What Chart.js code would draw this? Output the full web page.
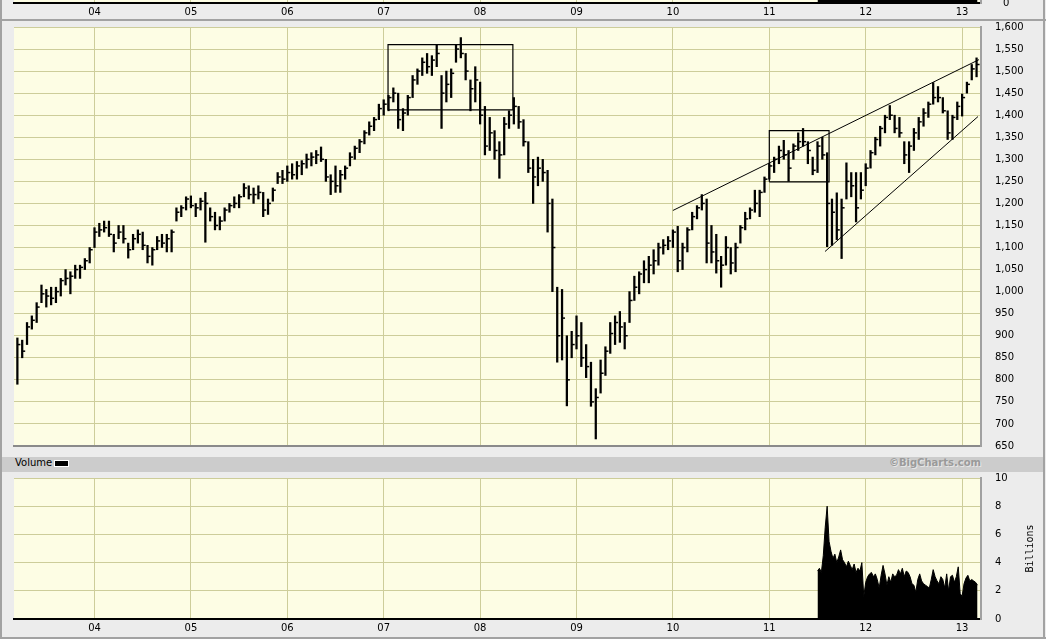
<!DOCTYPE html>
<html>
<head>
<meta charset="utf-8">
<script src="https://cdn.jsdelivr.net/npm/chart.js@4.4.1/dist/chart.umd.min.js"></script>
<style>
  body { margin: 0; background: #ececec; }
  #wrap { position: relative; width: 1046px; height: 639px; overflow: hidden; background: #ececec; }
  canvas { position: absolute; left: 0; }
  .rule { position: absolute; background: #a2a2a2; }
  #band { position: absolute; left: 2px; top: 457px; width: 1041px; height: 15px; background: #cccccc; }
  #volLabel { position: absolute; left: 15px; top: 457px; height: 15px; line-height: 15px;
    font: 10px 'DejaVu Sans', sans-serif; color: #000; }
  #swatch { position: absolute; left: 54px; top: 460px; width: 13px; height: 5px; background: #000; border: 1px solid #fff; }
  #credit { position: absolute; left: 760px; width: 221px; top: 457px; height: 15px; line-height: 15px; text-align: right;
    font: bold 10px 'DejaVu Sans', sans-serif; color: #9a9a9a; text-shadow: 1px 1px 0 #e6e6e6; }
</style>
</head>
<body>
<div id="wrap">
  <canvas id="topStrip" width="1046" height="19" style="top:0"></canvas>
  <canvas id="priceChart" width="1046" height="436" style="top:20px"></canvas>
  <div id="band"></div>
  <div id="volLabel">Volume</div>
  <div id="swatch"></div>
  <div id="credit">©BigCharts.com</div>
  <canvas id="volumeChart" width="1046" height="165" style="top:472px"></canvas>
  <div class="rule" style="left:0;top:0;width:2px;height:639px"></div>
  <div class="rule" style="left:1043px;top:0;width:2px;height:639px"></div>
  <div class="rule" style="left:0;top:19px;width:1046px;height:2px"></div>
  <div class="rule" style="left:0;top:637px;width:1046px;height:2px"></div>
</div>
<script>
// S&P 500, roughly every 2.5 weeks
const weeks = [
  2003.20, 2003.25, 2003.30, 2003.35, 2003.40, 2003.45, 2003.50, 2003.55, 2003.60, 2003.65, 2003.70, 2003.75, 2003.80, 2003.85, 2003.90, 2003.95,
  2004.00, 2004.05, 2004.10, 2004.15, 2004.20, 2004.25, 2004.30, 2004.35, 2004.40, 2004.45, 2004.50, 2004.55, 2004.60, 2004.65, 2004.70, 2004.75, 2004.80, 2004.85, 2004.90, 2004.95,
  2005.00, 2005.05, 2005.10, 2005.15, 2005.20, 2005.25, 2005.30, 2005.35, 2005.40, 2005.45, 2005.50, 2005.55, 2005.60, 2005.65, 2005.70, 2005.75, 2005.80, 2005.85, 2005.90, 2005.95,
  2006.00, 2006.05, 2006.10, 2006.15, 2006.20, 2006.25, 2006.30, 2006.35, 2006.40, 2006.45, 2006.50, 2006.55, 2006.60, 2006.65, 2006.70, 2006.75, 2006.80, 2006.85, 2006.90, 2006.95,
  2007.00, 2007.05, 2007.10, 2007.15, 2007.20, 2007.25, 2007.30, 2007.35, 2007.40, 2007.45, 2007.50, 2007.55, 2007.60, 2007.65, 2007.70, 2007.75, 2007.80, 2007.85, 2007.90, 2007.95,
  2008.00, 2008.05, 2008.10, 2008.15, 2008.20, 2008.25, 2008.30, 2008.35, 2008.40, 2008.45, 2008.50, 2008.55, 2008.60, 2008.65, 2008.70, 2008.75, 2008.80, 2008.85, 2008.90, 2008.95,
  2009.00, 2009.05, 2009.10, 2009.15, 2009.20, 2009.25, 2009.30, 2009.35, 2009.40, 2009.45, 2009.50, 2009.55, 2009.60, 2009.65, 2009.70, 2009.75, 2009.80, 2009.85, 2009.90, 2009.95,
  2010.00, 2010.05, 2010.10, 2010.15, 2010.20, 2010.25, 2010.30, 2010.35, 2010.40, 2010.45, 2010.50, 2010.55, 2010.60, 2010.65, 2010.70, 2010.75, 2010.80, 2010.85, 2010.90, 2010.95,
  2011.00, 2011.05, 2011.10, 2011.15, 2011.20, 2011.25, 2011.30, 2011.35, 2011.40, 2011.45, 2011.50, 2011.55, 2011.60, 2011.65, 2011.70, 2011.75, 2011.80, 2011.85, 2011.90, 2011.95,
  2012.00, 2012.05, 2012.10, 2012.15, 2012.20, 2012.25, 2012.30, 2012.35, 2012.40, 2012.45, 2012.50, 2012.55, 2012.60, 2012.65, 2012.70, 2012.75, 2012.80, 2012.85, 2012.90, 2012.95,
  2013.00, 2013.05, 2013.10, 2013.15
];
const lows = [
  790, 850, 880, 915, 930, 975, 965, 970, 975, 990, 1015, 995, 1030, 1030, 1050, 1065,
  1100, 1125, 1135, 1125, 1090, 1120, 1110, 1076, 1095, 1110, 1095, 1065, 1060, 1095, 1100, 1090, 1090, 1160, 1170, 1185,
  1190, 1170, 1185, 1112, 1160, 1140, 1140, 1160, 1180, 1190, 1190, 1215, 1210, 1200, 1210, 1170, 1175, 1205, 1245, 1245,
  1250, 1255, 1255, 1265, 1280, 1285, 1290, 1295, 1250, 1220, 1225, 1225, 1255, 1285, 1300, 1315, 1335, 1355, 1365, 1390,
  1400, 1410, 1430, 1370, 1365, 1400, 1440, 1470, 1490, 1495, 1490, 1510, 1370, 1430, 1440, 1520, 1530, 1480, 1410, 1430,
  1380, 1310, 1320, 1300, 1257, 1310, 1370, 1380, 1370, 1330, 1270, 1200, 1240, 1250, 1135, 1000, 840, 845, 741, 850,
  870, 830, 805, 740, 666, 770, 810, 860, 880, 885, 870, 930, 980, 995, 1020, 1020, 1040, 1060, 1085, 1095,
  1100, 1045, 1050, 1090, 1140, 1165, 1185, 1065, 1065, 1042, 1010, 1060, 1040, 1045, 1110, 1140, 1165, 1180, 1170, 1225,
  1255, 1270, 1290, 1300, 1250, 1300, 1320, 1330, 1290, 1265, 1270, 1300, 1102, 1105, 1118, 1075, 1210, 1215, 1158, 1210,
  1240, 1280, 1310, 1330, 1360, 1390, 1360, 1350, 1290, 1270, 1320, 1345, 1375, 1395, 1425, 1430, 1405, 1345, 1345, 1390,
  1398, 1450, 1480, 1487
];
const highs = [
  895, 890, 930, 945, 975, 1015, 1005, 1010, 1010, 1030, 1050, 1045, 1060, 1060, 1075, 1100,
  1145, 1155, 1160, 1160, 1130, 1150, 1150, 1110, 1130, 1140, 1135, 1105, 1100, 1125, 1130, 1130, 1140, 1190, 1195, 1215,
  1217, 1200, 1212, 1225, 1190, 1180, 1170, 1190, 1200, 1215, 1220, 1245, 1240, 1235, 1240, 1225, 1210, 1235, 1270, 1275,
  1285, 1290, 1295, 1297, 1312, 1315, 1320, 1328, 1300, 1265, 1285, 1275, 1285, 1315, 1330, 1345, 1365, 1385, 1395, 1425,
  1435, 1445, 1462, 1450, 1415, 1445, 1490, 1505, 1530, 1540, 1535, 1560, 1490, 1500, 1505, 1560, 1576, 1540, 1480, 1510,
  1475, 1420, 1395, 1365, 1340, 1395, 1410, 1440, 1420, 1390, 1340, 1300, 1305, 1300, 1275, 1210, 1010, 1005, 900, 910,
  945, 930, 880, 840, 780, 845, 875, 930, 945, 955, 930, 1000, 1035, 1045, 1070, 1080, 1095, 1110, 1118, 1125,
  1140, 1148, 1110, 1145, 1180, 1195, 1220, 1210, 1150, 1130, 1080, 1125, 1100, 1110, 1150, 1180, 1190, 1230, 1230, 1260,
  1290, 1305, 1330, 1343, 1320, 1335, 1360, 1370, 1340, 1305, 1340, 1350, 1315, 1210, 1224, 1210, 1292, 1270, 1270, 1270,
  1290, 1320, 1350, 1375, 1400, 1422, 1400, 1395, 1340, 1340, 1370, 1395, 1415, 1430, 1474, 1465, 1440, 1410, 1400, 1430,
  1448, 1475, 1515, 1530
];
const closes = [
  880, 865, 920, 935, 965, 995, 990, 985, 1000, 1025, 1030, 1035, 1050, 1055, 1070, 1095,
  1135, 1140, 1145, 1130, 1110, 1135, 1120, 1095, 1120, 1130, 1105, 1080, 1095, 1115, 1110, 1120, 1135, 1180, 1190, 1210,
  1195, 1190, 1205, 1200, 1170, 1150, 1160, 1185, 1195, 1200, 1215, 1235, 1220, 1220, 1225, 1185, 1200, 1230, 1260, 1255,
  1270, 1265, 1285, 1290, 1300, 1305, 1310, 1300, 1260, 1250, 1240, 1265, 1280, 1305, 1325, 1340, 1360, 1375, 1390, 1415,
  1425, 1440, 1450, 1390, 1405, 1440, 1480, 1500, 1520, 1510, 1525, 1540, 1450, 1470, 1495, 1550, 1540, 1500, 1460, 1480,
  1400, 1330, 1360, 1320, 1310, 1380, 1400, 1420, 1385, 1340, 1280, 1260, 1280, 1270, 1200, 1100, 900, 940, 800, 880,
  900, 850, 830, 750, 760, 815, 865, 905, 930, 920, 900, 980, 1010, 1040, 1050, 1060, 1070, 1100, 1105, 1115,
  1135, 1070, 1100, 1140, 1170, 1190, 1200, 1110, 1090, 1070, 1060, 1100, 1065, 1100, 1145, 1165, 1185, 1200, 1225, 1255,
  1285, 1300, 1320, 1310, 1280, 1330, 1340, 1340, 1320, 1275, 1330, 1310, 1200, 1180, 1140, 1190, 1250, 1240, 1190, 1230,
  1280, 1315, 1345, 1370, 1395, 1400, 1370, 1360, 1310, 1330, 1360, 1385, 1405, 1425, 1440, 1440, 1410, 1360, 1395, 1420,
  1440, 1470, 1505, 1515
];

// volume, billions of shares
const volDates = [
  2011.50, 2011.52, 2011.54, 2011.56, 2011.58, 2011.60, 2011.62, 2011.64, 2011.66, 2011.68, 2011.70, 2011.72, 2011.74, 2011.76, 2011.78, 2011.80,
  2011.82, 2011.84, 2011.86, 2011.88, 2011.90, 2011.92, 2011.94, 2011.96, 2011.98, 2012.00, 2012.02, 2012.04, 2012.06, 2012.08, 2012.10, 2012.12,
  2012.14, 2012.16, 2012.18, 2012.20, 2012.22, 2012.24, 2012.26, 2012.28, 2012.30, 2012.32, 2012.34, 2012.36, 2012.38, 2012.40, 2012.42, 2012.44,
  2012.46, 2012.48, 2012.50, 2012.52, 2012.54, 2012.56, 2012.58, 2012.60, 2012.62, 2012.64, 2012.66, 2012.68, 2012.70, 2012.72, 2012.74, 2012.76,
  2012.78, 2012.80, 2012.82, 2012.84, 2012.86, 2012.88, 2012.90, 2012.92, 2012.94, 2012.96, 2012.98, 2013.00, 2013.02, 2013.04, 2013.06, 2013.08,
  2013.10, 2013.12, 2013.14, 2013.16
];
const volBillions = [
  3.4, 3.6, 3.3, 4.5, 6.5, 8.0, 5.5, 4.8, 4.3, 4.6, 4.0, 4.4, 4.9, 4.2, 4.0, 3.7,
  4.1, 3.8, 3.5, 3.9, 3.3, 3.6, 3.4, 4.0, 1.6, 2.6, 3.0, 3.2, 3.3, 3.0, 3.2, 2.8,
  2.2, 3.1, 3.8, 3.2, 2.4, 3.0, 2.6, 3.2, 3.0, 3.1, 3.5, 3.2, 3.6, 3.0, 3.4, 3.3,
  3.0, 2.5, 2.4, 1.9, 2.8, 3.2, 2.7, 2.5, 2.4, 2.3, 2.2, 2.8, 3.5, 3.0, 2.7, 2.5,
  3.0, 2.8, 2.2, 3.2, 2.0, 3.0, 3.1, 2.6, 3.0, 3.7, 1.8, 1.6, 2.5, 2.9, 3.1, 2.7,
  2.8, 2.7, 2.6, 2.4
];

// drawn annotations: [from, to, low, high] boxes and [t1, p1, t2, p2] lines
const boxes = [
  [2007.045, 2008.34, 1412, 1560],
  [2011.0, 2011.62, 1249, 1365]
];
const trendLines = [
  [2010.0, 1184, 2013.175, 1526],
  [2011.578, 1091, 2013.165, 1397]
];

const yearTicks = [2004, 2005, 2006, 2007, 2008, 2009, 2010, 2011, 2012, 2013];
const priceTicks = [650, 700, 750, 800, 850, 900, 950, 1000, 1050, 1100, 1150, 1200, 1250, 1300, 1350, 1400, 1450, 1500, 1550, 1600];
const volumeTicks = [0, 2, 4, 6, 8, 10];

const xMin = 2003.165, xMax = 2013.196;
const plotYellow = '#fdfde4';
const gridColor = '#cdcd9a';

Chart.defaults.font.family = "'DejaVu Sans', sans-serif";
Chart.defaults.font.size = 10;
Chart.defaults.color = '#000';
Chart.defaults.animation = false;

const plotBg = {
    id: 'plotBg',
    beforeDraw(chart) {
        const { ctx, chartArea: a } = chart;
        ctx.save();
        ctx.fillStyle = plotYellow;
        ctx.fillRect(a.left, a.top, a.right - a.left, a.bottom - a.top);
        ctx.restore();
    }
};

// labels may hang over the plot edges, don't let them push the plot area around
function noOverhang(s) {
    s.paddingTop = 0;
    s.paddingBottom = 0;
    s.paddingLeft = 0;
    s.paddingRight = 0;
}

function yearAxis(showLabels, borderColor, height) {
    return {
        type: 'linear',
        min: xMin,
        max: xMax,
        offset: false,
        afterBuildTicks: s => { s.ticks = yearTicks.map(v => ({ value: v })); },
        afterFit: s => { s.height = height; noOverhang(s); },
        grid: { color: gridColor, drawTicks: false, offset: false },
        border: { display: true, color: borderColor, width: 2 },
        ticks: { display: showLabels, padding: 3, maxRotation: 0, autoSkip: false, callback: v => String(v).slice(2) }
    };
}

function rightAxis(min, max, tickValues, fmt) {
    return {
        position: 'right',
        min, max,
        afterBuildTicks: s => { s.ticks = tickValues.map(v => ({ value: v })); },
        afterFit: s => { s.width = 65; noOverhang(s); },
        grid: { color: gridColor, drawTicks: false },
        border: { display: true, color: '#a0a0a0', width: 2 },
        ticks: { padding: 14, callback: fmt }
    };
}

const quiet = { legend: { display: false }, tooltip: { enabled: false } };

// top strip: bottom edge of the panel above, same volume series clipped
new Chart(document.getElementById('topStrip'), {
    type: 'line',
    data: {
        datasets: [{
            data: volDates.map((t, i) => ({ x: t, y: volBillions[i] })),
            fill: 'origin', backgroundColor: '#000', borderColor: '#000', borderWidth: 1, pointRadius: 0
        }]
    },
    options: {
        responsive: false,
        events: [],
        layout: { padding: { left: 14, top: 0, right: 0, bottom: 0 } },
        plugins: quiet,
        scales: {
            x: yearAxis(true, '#000', 16),
            y: Object.assign(rightAxis(0, 0.5, [0], v => String(v)), { grid: { display: false } })
        }
    },
    plugins: [plotBg]
});

// price panel
const boxSets = boxes.map(([t1, t2, lo, hi]) => ({
    type: 'line',
    data: [{ x: t1, y: lo }, { x: t1, y: hi }, { x: t2, y: hi }, { x: t2, y: lo }, { x: t1, y: lo }],
    borderColor: '#000', borderWidth: 1.2, pointRadius: 0, fill: false
}));
const lineSets = trendLines.map(([t1, p1, t2, p2]) => ({
    type: 'line',
    data: [{ x: t1, y: p1 }, { x: t2, y: p2 }],
    borderColor: '#000', borderWidth: 1, pointRadius: 0, fill: false
}));

// little close tick on the right of each high-low bar
const closeTicks = {
    id: 'closeTicks',
    afterDatasetsDraw(chart) {
        const bars = chart.getDatasetMeta(0).data;
        const y = chart.scales.y;
        const ctx = chart.ctx;
        ctx.save();
        ctx.strokeStyle = '#000';
        ctx.lineWidth = 1.5;
        bars.forEach((bar, i) => {
            const py = y.getPixelForValue(closes[i]);
            ctx.beginPath();
            ctx.moveTo(bar.x, py);
            ctx.lineTo(bar.x + 3, py);
            ctx.stroke();
        });
        ctx.restore();
    }
};

new Chart(document.getElementById('priceChart'), {
    type: 'bar',
    data: {
        datasets: [{
            data: weeks.map((t, i) => ({ x: t, y: [lows[i], highs[i]] })),
            backgroundColor: '#000',
            borderWidth: 0,
            barThickness: 1.6,
            grouped: false
        }, ...boxSets, ...lineSets]
    },
    options: {
        responsive: false,
        events: [],
        layout: { padding: { left: 14, top: 7, right: 0, bottom: 0 } },
        plugins: quiet,
        scales: {
            x: yearAxis(false, '#8a8a8a', 10),
            y: rightAxis(650, 1600, priceTicks, v => v.toLocaleString('en-US'))
        }
    },
    plugins: [plotBg, closeTicks]
});

// volume panel
const billionsTitle = {
    id: 'billionsTitle',
    afterDraw(chart) {
        const { ctx, chartArea: a } = chart;
        ctx.save();
        ctx.translate(1030, (a.top + a.bottom) / 2);
        ctx.rotate(-Math.PI / 2);
        ctx.font = "10px 'DejaVu Sans Mono', monospace";
        ctx.fillStyle = '#000';
        ctx.textAlign = 'center';
        ctx.textBaseline = 'middle';
        ctx.fillText('Billions', 0, 0);
        ctx.restore();
    }
};

new Chart(document.getElementById('volumeChart'), {
    type: 'line',
    data: {
        datasets: [{
            data: volDates.map((t, i) => ({ x: t, y: volBillions[i] })),
            fill: 'origin', backgroundColor: '#000', borderColor: '#000', borderWidth: 1, pointRadius: 0
        }]
    },
    options: {
        responsive: false,
        events: [],
        layout: { padding: { left: 14, top: 6, right: 0, bottom: 0 } },
        plugins: quiet,
        scales: {
            x: yearAxis(true, '#000', 18),
            y: rightAxis(0, 10, volumeTicks, v => String(v))
        }
    },
    plugins: [plotBg, billionsTitle]
});
</script>
</body>
</html>
